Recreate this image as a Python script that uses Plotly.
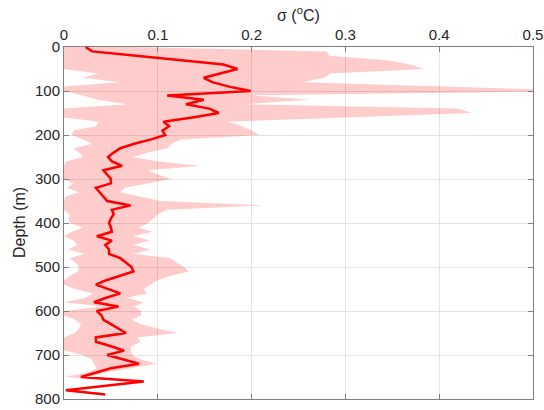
import plotly.graph_objects as go

depth = [0, 10, 20, 30, 40, 50, 60, 70, 80, 90,
         100, 110, 120, 130, 140, 150, 160, 170, 180, 190,
         200, 210, 220, 230, 240, 250, 260, 270, 280, 290,
         300, 310, 320, 330, 340, 350, 360, 370, 380, 390,
         400, 410, 420, 430, 440, 450, 460, 470, 480, 490,
         500, 510, 520, 530, 540, 550, 560, 570, 580, 590,
         600, 610, 620, 630, 640, 650, 660, 670, 680, 690,
         700, 710, 720, 730, 740, 750, 760, 770, 780, 790]

sigma_mean = [0.023, 0.030, 0.077, 0.123, 0.170, 0.185, 0.166, 0.149, 0.158, 0.176,
              0.199, 0.110, 0.149, 0.130, 0.155, 0.165, 0.137, 0.106, 0.112, 0.105,
              0.108, 0.093, 0.075, 0.060, 0.053, 0.047, 0.051, 0.062, 0.042, 0.046,
              0.050, 0.050, 0.034, 0.038, 0.042, 0.046, 0.071, 0.051, 0.053, 0.050,
              0.048, 0.050, 0.051, 0.035, 0.051, 0.044, 0.048, 0.048, 0.060, 0.066,
              0.072, 0.074, 0.060, 0.045, 0.034, 0.048, 0.060, 0.045, 0.032, 0.058,
              0.035, 0.040, 0.042, 0.050, 0.058, 0.066, 0.034, 0.034, 0.050, 0.064,
              0.046, 0.063, 0.080, 0.050, 0.033, 0.018, 0.085, 0.043, 0.002, 0.044]

sigma_upper = [0.075, 0.280, 0.283, 0.345, 0.369, 0.384, 0.284, 0.277, 0.254, 0.400,
               0.560, 0.200, 0.262, 0.193, 0.420, 0.435, 0.300, 0.175, 0.190, 0.200,
               0.208, 0.125, 0.115, 0.110, 0.090, 0.074, 0.100, 0.146, 0.089, 0.100,
               0.114, 0.090, 0.065, 0.060, 0.082, 0.103, 0.213, 0.110, 0.100, 0.095,
               0.090, 0.080, 0.094, 0.074, 0.092, 0.074, 0.092, 0.074, 0.114, 0.120,
               0.128, 0.133, 0.114, 0.100, 0.092, 0.085, 0.089, 0.067, 0.085, 0.075,
               0.082, 0.082, 0.072, 0.082, 0.100, 0.121, 0.078, 0.082, 0.072, 0.071,
               0.073, 0.082, 0.099, 0.074, 0.045, 0.025, 0.088, 0.046, 0.004, 0.046]

sigma_lower = [0.0, 0.0, 0.0, 0.0, 0.0, 0.0, 0.036, 0.020, 0.060, 0.0,
               0.0, 0.020, 0.036, 0.067, 0.0, 0.0, 0.0, 0.037, 0.034, 0.010,
               0.008, 0.020, 0.030, 0.010, 0.016, 0.020, 0.002, 0.0, 0.0, 0.0,
               0.0, 0.010, 0.003, 0.016, 0.002, 0.0, 0.0, 0.0, 0.006, 0.005,
               0.006, 0.020, 0.008, 0.0, 0.010, 0.014, 0.004, 0.022, 0.006, 0.012,
               0.016, 0.015, 0.006, 0.0, 0.0, 0.011, 0.031, 0.023, 0.0, 0.041,
               0.0, 0.0, 0.012, 0.018, 0.016, 0.011, 0.0, 0.0, 0.0, 0.0,
               0.020, 0.030, 0.032, 0.035, 0.025, 0.0, 0.080, 0.040, 0.0, 0.042]

x_ticks = [0, 0.1, 0.2, 0.3, 0.4, 0.5]
x_ticklabels = ["0", "0.1", "0.2", "0.3", "0.4", "0.5"]
y_ticks = [0, 100, 200, 300, 400, 500, 600, 700, 800]
x_title = "σ (<sup>o</sup>C)"
y_title = "Depth (m)"

FONT = "Liberation Sans, Arial, Helvetica, sans-serif"
TXT = "#262626"

W, H = 544, 410
ML, MR, MT, MB = 64, 11, 47, 11
PW, PH = W - ML - MR, H - MT - MB

fig = go.Figure()

# shaded spread band (upper edge down, lower edge back up)
fig.add_trace(go.Scatter(
    x=sigma_upper + sigma_lower[::-1],
    y=depth + depth[::-1],
    fill="toself",
    fillcolor="rgba(255,0,0,0.2)",
    line=dict(width=0, color="rgba(255,0,0,0)"),
    mode="lines",
    hoverinfo="skip",
    showlegend=False,
))

fig.add_trace(go.Scatter(
    x=sigma_mean, y=depth, mode="lines",
    line=dict(color="#ff0000", width=2.5),
    hoverinfo="skip",
    showlegend=False,
))

axis_common = dict(
    showline=True, linecolor="#808080", linewidth=1, mirror="ticks",
    ticks="inside", ticklen=5, tickcolor="#808080",
    showgrid=True, gridcolor="#e3e3e3", gridwidth=1,
    zeroline=False, automargin=False,
    tickfont=dict(family=FONT, size=15, color=TXT),
)

fig.update_layout(
    width=W, height=H,
    margin=dict(l=ML, r=MR, t=MT, b=MB),
    paper_bgcolor="white", plot_bgcolor="white",
    font=dict(family=FONT, color=TXT),
    hovermode=False,
    xaxis=dict(range=[0, 0.5], side="top",
               tickvals=x_ticks, ticktext=x_ticklabels, **axis_common),
    yaxis=dict(range=[800, 0], tickvals=y_ticks, **axis_common),
    annotations=[
        dict(text=x_title, xref="paper", yref="paper",
             x=0.5, y=1 + (MT - 14) / PH, xanchor="center", yanchor="middle",
             showarrow=False, font=dict(family=FONT, size=16, color=TXT)),
        dict(text=y_title, xref="paper", yref="paper",
             x=(19 - ML) / PW, y=0.5, xanchor="center", yanchor="middle",
             textangle=-90, showarrow=False,
             font=dict(family=FONT, size=16, color=TXT)),
    ],
)

fig.write_html(
    "out.html",
    config={"displayModeBar": False, "staticPlot": True},
    post_script="document.body.style.margin='0';document.body.style.overflow='hidden';",
)
